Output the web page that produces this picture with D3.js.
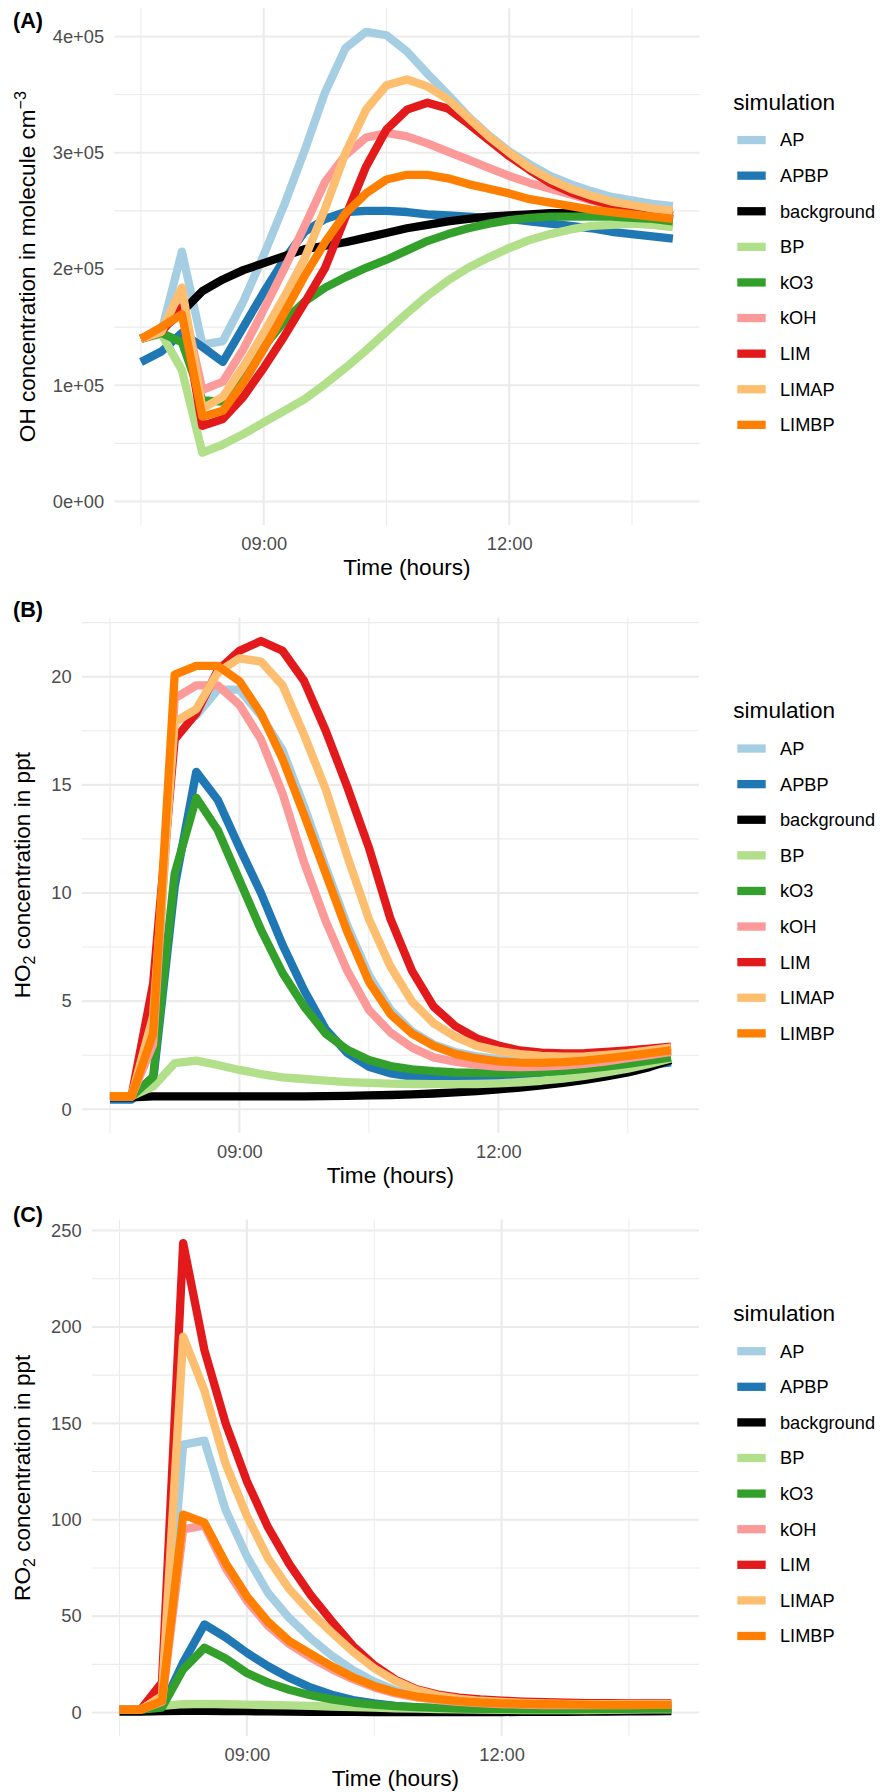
<!DOCTYPE html>
<html>
<head>
<meta charset="utf-8">
<script src="https://cdn.jsdelivr.net/npm/d3@7"></script>
<style>
  html, body { margin: 0; padding: 0; background: #fff; }
  svg { display: block; font-family: "Liberation Sans", Arial, Helvetica, sans-serif; }
</style>
</head>
<body>
<svg id="chart" width="880" height="1792"></svg>
<script>
// ---------------- DATA ----------------
const times = ["07:30","07:45","08:00","08:15","08:30","08:45","09:00","09:15","09:30","09:45",
  "10:00","10:15","10:30","10:45","11:00","11:15","11:30","11:45","12:00","12:15",
  "12:30","12:45","13:00","13:15","13:30","13:45","14:00"];

const simulations = ["AP","APBP","background","BP","kO3","kOH","LIM","LIMAP","LIMBP"];
const simColors = ["#A6CEE3","#1F78B4","#000000","#B2DF8A","#33A02C","#FB9A99","#E31A1C","#FDBF6F","#FF7F00"];

// Panel A: OH (molecule cm-3)
const ohAP = [1.40e5,1.46e5,2.15e5,1.35e5,1.38e5,1.72e5,2.12e5,2.55e5,3.02e5,3.52e5,3.90e5,4.04e5,4.01e5,3.87e5,3.68e5,3.50e5,3.31e5,3.15e5,3.01e5,2.90e5,2.80e5,2.73e5,2.67e5,2.62e5,2.59e5,2.56e5,2.54e5];
const ohAPBP = [1.20e5,1.29e5,1.45e5,1.33e5,1.20e5,1.50e5,1.80e5,2.08e5,2.32e5,2.43e5,2.49e5,2.50e5,2.50e5,2.49e5,2.47e5,2.46e5,2.45e5,2.44e5,2.43e5,2.41e5,2.39e5,2.37e5,2.35e5,2.32e5,2.30e5,2.28e5,2.26e5];
const ohBackground = [1.40e5,1.48e5,1.63e5,1.81e5,1.91e5,1.99e5,2.05e5,2.11e5,2.17e5,2.20e5,2.23e5,2.27e5,2.31e5,2.35e5,2.38e5,2.41e5,2.43e5,2.45e5,2.46e5,2.47e5,2.48e5,2.48e5,2.48e5,2.47e5,2.46e5,2.45e5,2.43e5];
const ohBP = [1.40e5,1.44e5,1.13e5,0.42e5,0.49e5,0.58e5,0.68e5,0.78e5,0.88e5,1.01e5,1.15e5,1.30e5,1.46e5,1.62e5,1.77e5,1.90e5,2.01e5,2.10e5,2.18e5,2.25e5,2.30e5,2.34e5,2.37e5,2.38e5,2.39e5,2.38e5,2.36e5];
const ohKO3 = [1.40e5,1.45e5,1.37e5,0.87e5,0.86e5,1.10e5,1.33e5,1.55e5,1.72e5,1.84e5,1.93e5,2.01e5,2.08e5,2.16e5,2.24e5,2.30e5,2.35e5,2.39e5,2.42e5,2.44e5,2.45e5,2.45e5,2.45e5,2.45e5,2.44e5,2.43e5,2.41e5];
const ohKOH = [1.40e5,1.46e5,1.75e5,0.96e5,1.03e5,1.31e5,1.65e5,2.00e5,2.37e5,2.75e5,2.98e5,3.13e5,3.17e5,3.14e5,3.08e5,3.01e5,2.94e5,2.87e5,2.80e5,2.74e5,2.69e5,2.64e5,2.59e5,2.55e5,2.52e5,2.49e5,2.46e5];
const ohLIM = [1.40e5,1.46e5,1.67e5,0.65e5,0.71e5,0.90e5,1.15e5,1.42e5,1.71e5,2.01e5,2.45e5,2.88e5,3.20e5,3.37e5,3.43e5,3.38e5,3.25e5,3.11e5,2.97e5,2.85e5,2.74e5,2.66e5,2.60e5,2.55e5,2.51e5,2.48e5,2.46e5];
const ohLIMAP = [1.40e5,1.46e5,1.84e5,0.80e5,0.90e5,1.16e5,1.45e5,1.76e5,2.09e5,2.52e5,3.00e5,3.37e5,3.58e5,3.63e5,3.57e5,3.46e5,3.30e5,3.14e5,3.00e5,2.87e5,2.77e5,2.69e5,2.63e5,2.58e5,2.55e5,2.52e5,2.50e5];
const ohLIMBP = [1.40e5,1.50e5,1.61e5,0.73e5,0.78e5,1.02e5,1.31e5,1.62e5,1.94e5,2.23e5,2.48e5,2.65e5,2.77e5,2.81e5,2.81e5,2.78e5,2.73e5,2.69e5,2.65e5,2.60e5,2.57e5,2.54e5,2.51e5,2.49e5,2.47e5,2.45e5,2.43e5];

// Panel B: HO2 (ppt)
const ho2AP = [0.6,0.6,3.5,18.0,18.2,19.4,19.4,18.2,16.6,14.0,11.2,8.5,6.2,4.6,3.6,3.0,2.65,2.45,2.32,2.27,2.26,2.28,2.33,2.42,2.52,2.63,2.75];
const ho2APBP = [0.45,0.45,1.3,10.3,15.6,14.3,12.1,10.0,7.6,5.5,3.7,2.6,1.97,1.66,1.51,1.43,1.42,1.42,1.45,1.5,1.55,1.62,1.72,1.82,1.93,2.05,2.17];
const ho2Background = [0.55,0.55,0.6,0.6,0.6,0.6,0.6,0.6,0.6,0.6,0.61,0.62,0.64,0.66,0.69,0.73,0.78,0.84,0.92,1.0,1.1,1.22,1.36,1.52,1.7,1.95,2.28];
const ho2BP = [0.6,0.6,1.05,2.13,2.25,2.05,1.82,1.63,1.48,1.40,1.32,1.26,1.22,1.19,1.17,1.16,1.16,1.17,1.2,1.25,1.32,1.42,1.55,1.7,1.88,2.1,2.35];
const ho2KO3 = [0.6,0.6,1.5,10.9,14.4,12.9,10.6,8.3,6.3,4.75,3.5,2.75,2.28,2.0,1.85,1.76,1.7,1.68,1.67,1.68,1.72,1.78,1.87,1.97,2.1,2.25,2.4];
const ho2KOH = [0.6,0.6,3.0,19.0,19.6,19.6,18.7,17.1,14.6,11.4,8.7,6.4,4.6,3.55,2.85,2.4,2.2,2.05,1.97,1.95,1.97,2.02,2.1,2.22,2.36,2.5,2.65];
const ho2LIM = [0.6,0.6,5.8,17.1,18.3,20.3,21.2,21.65,21.2,19.8,17.5,14.9,12.1,8.8,6.4,4.75,3.85,3.28,2.95,2.72,2.62,2.58,2.6,2.65,2.72,2.8,2.9];
const ho2LIMAP = [0.6,0.6,4.3,17.9,18.5,20.2,20.85,20.7,19.6,17.3,14.8,11.7,8.8,6.6,4.98,3.98,3.36,2.93,2.7,2.55,2.47,2.43,2.45,2.52,2.6,2.72,2.85];
const ho2LIMBP = [0.6,0.6,3.5,20.1,20.5,20.5,19.8,18.3,16.2,13.6,10.9,8.2,5.9,4.4,3.5,2.93,2.56,2.35,2.22,2.16,2.15,2.18,2.25,2.35,2.47,2.6,2.72];

// Panel C: RO2 (ppt)
const ro2AP = [1.5,1.5,6,139,141,105,81,62,49,38.5,29.5,22,16,11.5,8.6,7.0,6.0,5.3,4.8,4.4,4.1,3.9,3.8,3.8,3.8,3.9,4.0];
const ro2APBP = [1.5,1.5,2.6,25.9,45.7,39,31,24,18,13,9.2,6.5,4.7,3.5,2.7,2.2,1.9,1.7,1.6,1.5,1.5,1.5,1.5,1.6,1.7,1.8,2.0];
const ro2Background = [0.5,0.5,0.7,0.9,0.9,0.8,0.7,0.6,0.5,0.4,0.35,0.3,0.28,0.26,0.25,0.25,0.25,0.26,0.28,0.3,0.33,0.37,0.42,0.48,0.55,0.63,0.72];
const ro2BP = [1.5,1.5,3.4,4.3,4.5,4.3,4.1,3.9,3.7,3.4,3.1,2.8,2.5,2.2,2.0,1.8,1.6,1.5,1.4,1.3,1.3,1.3,1.3,1.4,1.5,1.6,1.7];
const ro2KO3 = [1.5,1.5,2.6,22.4,33.6,28,20.5,15.5,11.8,9,6.8,5.2,4.1,3.3,2.8,2.4,2.1,1.9,1.8,1.7,1.7,1.7,1.8,1.8,1.9,2.0,2.1];
const ro2KOH = [1.5,1.5,5.5,95,97,75,58,45,35.5,28.5,22.5,17.3,13,9.9,7.9,6.5,5.5,4.9,4.4,4.1,3.9,3.8,3.8,3.8,3.9,4.0,4.1];
const ro2LIM = [1.5,1.5,15.5,243.5,188,150,120,96,77,61,47.4,34.5,24.5,17,12.1,9.3,7.7,6.8,6.2,5.7,5.4,5.1,4.9,4.8,4.7,4.7,4.7];
const ro2LIMAP = [1.5,1.5,8.6,195,167,129,102,80,64,52,41.5,31.5,23,16.4,11.7,8.8,7.1,6.1,5.5,5.0,4.7,4.5,4.4,4.3,4.3,4.3,4.4];
const ro2LIMBP = [1.5,1.5,6.0,102.6,98.5,77.6,60.3,47,37,30.5,24,18.3,13.8,10.5,8.3,6.9,5.9,5.2,4.8,4.5,4.3,4.2,4.1,4.0,4.0,4.0,4.0];

// Tick values / labels
const xTickValues = [9, 12];
const xTickLabels = ["09:00", "12:00"];
const xMinorTicks = [7.5, 10.5, 13.5];
const ohTicks = [0, 1e5, 2e5, 3e5, 4e5];
const ohTickLabels = ["0e+00", "1e+05", "2e+05", "3e+05", "4e+05"];
const ho2Ticks = [0, 5, 10, 15, 20];
const ho2TickLabels = ["0", "5", "10", "15", "20"];
const ro2Ticks = [0, 50, 100, 150, 200, 250];
const ro2TickLabels = ["0", "50", "100", "150", "200", "250"];

// ---------------- DRAWING ----------------
const svg = d3.select("#chart");
const hours = times.map(t => { const [h, m] = t.split(":").map(Number); return h + m / 60; });

const panels = [
  { tag: "(A)", tagY: 27.7, box: { l: 114.4, r: 699.5, t: 8.3, b: 525 },
    series: [ohAP, ohAPBP, ohBackground, ohBP, ohKO3, ohKOH, ohLIM, ohLIMAP, ohLIMBP],
    ticks: ohTicks, labels: ohTickLabels, ytitle: "OH", titleX: 35 },
  { tag: "(B)", tagY: 616.7, box: { l: 81.9, r: 699, t: 617.6, b: 1132.7 },
    series: [ho2AP, ho2APBP, ho2Background, ho2BP, ho2KO3, ho2KOH, ho2LIM, ho2LIMAP, ho2LIMBP],
    ticks: ho2Ticks, labels: ho2TickLabels, ytitle: "HO", titleX: 29.5 },
  { tag: "(C)", tagY: 1221.7, box: { l: 91.9, r: 699, t: 1219.6, b: 1736 },
    series: [ro2AP, ro2APBP, ro2Background, ro2BP, ro2KO3, ro2KOH, ro2LIM, ro2LIMAP, ro2LIMBP],
    ticks: ro2Ticks, labels: ro2TickLabels, ytitle: "RO", titleX: 29.5 }
];

const gridColor = "#EBEBEB";
const lineW = 8.3;

panels.forEach(p => {
  const { l, r, t, b } = p.box;
  const xr = d3.extent(hours);
  const xpad = (xr[1] - xr[0]) * 0.05;
  const x = d3.scaleLinear().domain([xr[0] - xpad, xr[1] + xpad]).range([l, r]);
  const allVals = p.series.flat();
  const ymin = Math.min(0, d3.min(allVals)), ymax = d3.max(allVals);
  const ypad = (ymax - ymin) * 0.05;
  const y = d3.scaleLinear().domain([ymin - ypad, ymax + ypad]).range([b, t]);

  const g = svg.append("g");

  // minor grid
  const step = p.ticks[1] - p.ticks[0];
  const yMinor = d3.range(p.ticks[0] - step / 2, y.domain()[1], step).filter(v => v > y.domain()[0] && v < y.domain()[1]);
  g.selectAll(".ymin").data(yMinor).join("line")
    .attr("x1", l).attr("x2", r).attr("y1", d => y(d)).attr("y2", d => y(d))
    .attr("stroke", gridColor).attr("stroke-width", 1.1);
  g.selectAll(".xmin").data(xMinorTicks).join("line")
    .attr("x1", d => x(d)).attr("x2", d => x(d)).attr("y1", t).attr("y2", b)
    .attr("stroke", gridColor).attr("stroke-width", 1.1);
  // major grid
  g.selectAll(".ymaj").data(p.ticks).join("line")
    .attr("x1", l).attr("x2", r).attr("y1", d => y(d)).attr("y2", d => y(d))
    .attr("stroke", gridColor).attr("stroke-width", 2.1);
  g.selectAll(".xmaj").data(xTickValues).join("line")
    .attr("x1", d => x(d)).attr("x2", d => x(d)).attr("y1", t).attr("y2", b)
    .attr("stroke", gridColor).attr("stroke-width", 2.1);

  // axes (labels only)
  const yAxis = d3.axisLeft(y).tickValues(p.ticks).tickSize(0).tickPadding(10.3)
    .tickFormat((d, i) => p.labels[i]);
  const ya = g.append("g").attr("transform", `translate(${l},0)`).call(yAxis);
  ya.select(".domain").remove();
  ya.selectAll("text").attr("fill", "#4D4D4D").style("font-size", "18.3px")
    .style("font-family", '"Liberation Sans", Arial, sans-serif');

  const xAxis = d3.axisBottom(x).tickValues(xTickValues).tickSize(0).tickPadding(12)
    .tickFormat((d, i) => xTickLabels[i]);
  const xa = g.append("g").attr("transform", `translate(0,${b})`).call(xAxis);
  xa.select(".domain").remove();
  xa.selectAll("text").attr("fill", "#4D4D4D").style("font-size", "18.3px")
    .style("font-family", '"Liberation Sans", Arial, sans-serif');

  // lines
  const line = d3.line().x((d, i) => x(hours[i])).y(d => y(d));
  p.series.forEach((s, k) => {
    g.append("path").datum(s).attr("d", line)
      .attr("fill", "none").attr("stroke", simColors[k]).attr("stroke-width", lineW)
      .attr("stroke-linejoin", "round").attr("stroke-linecap", "butt");
  });

  // axis titles
  g.append("text").attr("x", (l + r) / 2).attr("y", b + 50)
    .attr("text-anchor", "middle").attr("fill", "#000").style("font-size", "22.6px")
    .text("Time (hours)");

  const cy = (t + b) / 2;
  const yt = g.append("text").attr("transform", `translate(${p.titleX},${cy}) rotate(-90)`)
    .attr("text-anchor", "middle").attr("fill", "#000").style("font-size", "22.6px");
  if (p.ytitle === "OH") {
    yt.append("tspan").text("OH concentration in molecule cm");
    yt.append("tspan").attr("dy", -9).style("font-size", "16px").text("\u22123");
  } else {
    yt.append("tspan").text(p.ytitle);
    yt.append("tspan").attr("dy", 5).style("font-size", "16px").text("2");
    yt.append("tspan").attr("dy", -5).text(" concentration in ppt");
  }

  // tag
  g.append("text").attr("x", 13).attr("y", p.tagY).attr("fill", "#000")
    .style("font-size", "21.6px").style("font-weight", "bold").text(p.tag);

  // legend
  const legTitleY = cy - 165;
  const lg = g.append("g");
  lg.append("text").attr("x", 733.3).attr("y", legTitleY).attr("dy", "0.35em")
    .attr("fill", "#000").style("font-size", "22.6px").text("simulation");
  simulations.forEach((name, k) => {
    const ky = legTitleY + 38.4 + k * 35.6;
    lg.append("line").attr("x1", 737.3).attr("x2", 765.7).attr("y1", ky).attr("y2", ky)
      .attr("stroke", simColors[k]).attr("stroke-width", lineW);
    lg.append("text").attr("x", 780).attr("y", ky).attr("dy", "0.35em")
      .attr("fill", "#000").style("font-size", "18.2px").text(name);
  });
});
</script>
</body>
</html>
